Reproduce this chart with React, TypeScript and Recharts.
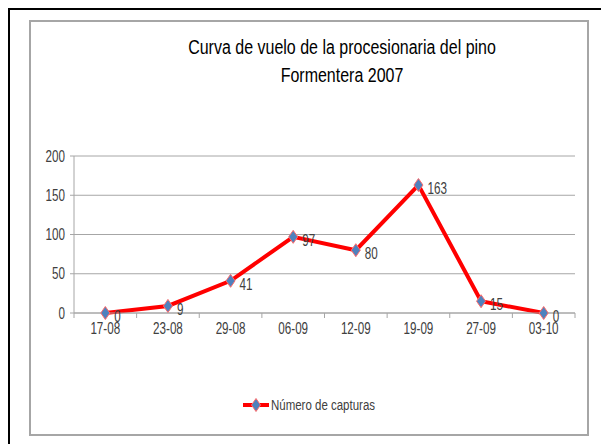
import React from 'react';
import {
  CartesianGrid,
  LabelList,
  Legend,
  Line,
  LineChart,
  XAxis,
  YAxis,
} from 'recharts';

const fechas = ['17-08', '23-08', '29-08', '06-09', '12-09', '19-09', '27-09', '03-10'];
const capturas = [0, 9, 41, 97, 80, 163, 15, 0];
const yTicks = [0, 50, 100, 150, 200];

const data = fechas.map((fecha, i) => ({ fecha, capturas: capturas[i] }));

const FONT = '"Liberation Sans", Arial, sans-serif';
const GRID = '#a6a6a6';
const TEXT = '#404040';
const NARROW = 0.73;

// squeezed text, the original uses a narrow font
const NarrowText = ({ x, y, anchor = 'start', size = 16, children }: any) => (
  <text
    transform={`translate(${x},${y}) scale(${NARROW},1)`}
    textAnchor={anchor}
    dominantBaseline="central"
    fontSize={size}
    fill={TEXT}
    fontFamily={FONT}
  >
    {children}
  </text>
);

const Diamond = ({ cx, cy }: any) => {
  if (cx == null || cy == null) return null;
  return (
    <path
      d={`M${cx},${cy - 6.5} L${cx + 4.5},${cy} L${cx},${cy + 6.5} L${cx - 4.5},${cy} Z`}
      fill="#4f81bd"
      stroke="#ff6b6b"
      strokeWidth={1}
    />
  );
};

const XTick = ({ x, y, payload, index, width }: any) => {
  const band = width / fechas.length;
  return (
    <g>
      <line x1={x - band / 2} x2={x - band / 2} y1={y} y2={y + 5} stroke={GRID} />
      {index === fechas.length - 1 && (
        <line x1={x + band / 2} x2={x + band / 2} y1={y} y2={y + 5} stroke={GRID} />
      )}
      <NarrowText x={x} y={y + 15} anchor="middle">
        {payload.value}
      </NarrowText>
    </g>
  );
};

const YTick = ({ x, y, payload }: any) => (
  <NarrowText x={x} y={y} anchor="end">
    {payload.value}
  </NarrowText>
);

const ValueLabel = ({ x, y, value }: any) => (
  <NarrowText x={x + 9} y={y + 3}>
    {value}
  </NarrowText>
);

const LegendContent = () => (
  <div style={{ display: 'flex', justifyContent: 'center', alignItems: 'center', fontFamily: FONT, fontSize: 14, color: TEXT }}>
    <svg width={28} height={16} style={{ marginRight: 1 }}>
      <line x1={1} x2={27} y1={8} y2={8} stroke="#ff0000" strokeWidth={4} />
      <Diamond cx={14} cy={8} />
    </svg>
    <span style={{ display: 'inline-block', width: 105, whiteSpace: 'nowrap' }}>
      <span style={{ display: 'inline-block', transform: 'scaleX(0.82)', transformOrigin: 'left center' }}>
        Número de capturas
      </span>
    </span>
  </div>
);

export default function App() {
  return (
    <div style={{ position: 'relative', width: 600, height: 436 }}>
      <div
        style={{
          position: 'absolute',
          left: 0,
          top: 0,
          width: 600,
          height: 440,
          boxSizing: 'border-box',
          borderTop: '2px solid #000',
          borderLeft: '2px solid #000',
          borderRight: '1px solid #888',
        }}
      />
      <div
        style={{
          position: 'absolute',
          left: 21,
          top: 12,
          width: 560,
          height: 416,
          boxSizing: 'border-box',
          border: '2px solid #a6a6a6',
          background: '#fff',
        }}
      >
        <div
          style={{
            position: 'absolute',
            left: 61,
            top: 11,
            width: 500,
            textAlign: 'center',
            fontFamily: FONT,
            fontSize: 20,
            lineHeight: '28px',
            color: '#000',
            transform: 'scaleX(0.8)',
            whiteSpace: 'nowrap',
          }}
        >
          Curva de vuelo de la procesionaria del pino
          <br />
          Formentera 2007
        </div>
        <LineChart width={556} height={412} data={data} margin={{ top: 134, right: 12, bottom: 91, left: 3 }}>
          <CartesianGrid vertical={false} stroke={GRID} />
          <XAxis
            dataKey="fecha"
            scale="band"
            stroke={GRID}
            tickLine={false}
            tickSize={0}
            tickMargin={0}
            height={30}
            tick={<XTick />}
            interval={0}
          />
          <YAxis
            domain={[0, 200]}
            ticks={yTicks}
            width={40}
            stroke={GRID}
            tickSize={4}
            tickMargin={5}
            tick={<YTick />}
          />
          <Legend
            layout="horizontal"
            verticalAlign="middle"
            align="center"
            content={<LegendContent />}
            wrapperStyle={{ top: 375, left: 0, width: 556 }}
          />
          <Line
            type="linear"
            dataKey="capturas"
            name="Número de capturas"
            stroke="#ff0000"
            strokeWidth={4}
            dot={<Diamond />}
            activeDot={false}
            isAnimationActive={false}
          >
            <LabelList dataKey="capturas" content={<ValueLabel />} />
          </Line>
        </LineChart>
      </div>
    </div>
  );
}
